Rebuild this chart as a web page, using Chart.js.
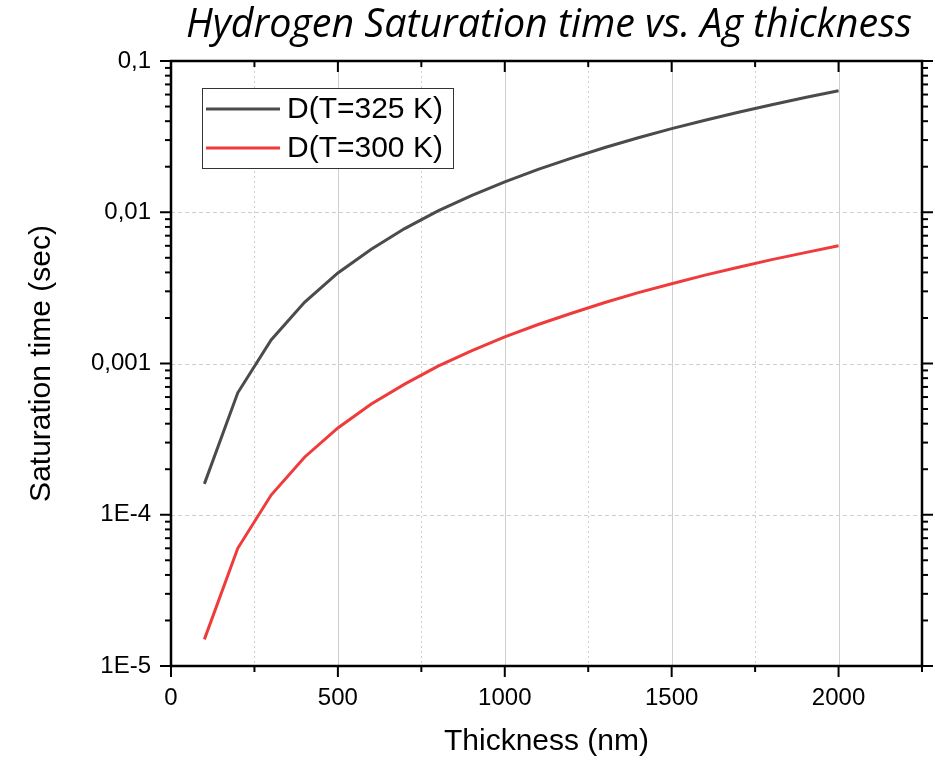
<!DOCTYPE html>
<html>
<head>
<meta charset="utf-8">
<script src="https://cdn.jsdelivr.net/npm/chart.js@4/dist/chart.umd.min.js"></script>
<style>
  html, body { margin: 0; padding: 0; background: #fff; }
  #wrap { width: 935px; height: 762px; }
</style>
</head>
<body>
<div id="wrap"><canvas id="chart" width="935" height="762"></canvas></div>
<script>
const thickness = [100, 200, 300, 400, 500, 600, 700, 800, 900, 1000, 1100, 1200, 1300, 1400, 1500, 1600, 1700, 1800, 1900, 2000];
const t325 = [1.6e-4, 6.4e-4, 1.43e-3, 2.54e-3, 3.97e-3, 5.7e-3, 7.8e-3, 1.02e-2, 1.29e-2, 1.59e-2, 1.92e-2, 2.28e-2, 2.68e-2, 3.11e-2, 3.57e-2, 4.06e-2, 4.58e-2, 5.14e-2, 5.73e-2, 6.35e-2];
const t300 = [1.5e-5, 6.0e-5, 1.35e-4, 2.4e-4, 3.75e-4, 5.4e-4, 7.3e-4, 9.6e-4, 1.21e-3, 1.5e-3, 1.81e-3, 2.15e-3, 2.53e-3, 2.94e-3, 3.37e-3, 3.84e-3, 4.33e-3, 4.86e-3, 5.41e-3, 6.0e-3];
const seriesNames = ['D(T=325 K)', 'D(T=300 K)'];
const xTicks = [0, 500, 1000, 1500, 2000];
const xMinorTicks = [250, 750, 1250, 1750, 2250];
const yTicks = [1e-5, 1e-4, 1e-3, 1e-2, 1e-1];
const yTickLabels = ['1E-5', '1E-4', '0,001', '0,01', '0,1'];
const titleText = 'Hydrogen Saturation time vs. Ag thickness';
const xTitle = 'Thickness (nm)';
const yTitle = 'Saturation time (sec)';

const SANS = '"Liberation Sans", Arial, sans-serif';

function pts(ys) {
  return thickness.map((x, i) => ({ x: x, y: ys[i] }));
}

// frame, ticks, grid, legend and titles
const decorations = {
  id: 'decorations',
  beforeDatasetsDraw(chart) {
    const { ctx, chartArea: a, scales: { x, y } } = chart;
    ctx.save();
    ctx.strokeStyle = '#cfcfcf';
    ctx.lineWidth = 1;
    xTicks.slice(1).forEach(v => {
      const px = Math.round(x.getPixelForValue(v)) + 0.5;
      ctx.setLineDash([]);
      ctx.beginPath(); ctx.moveTo(px, a.top); ctx.lineTo(px, a.bottom); ctx.stroke();
    });
    xMinorTicks.slice(0, -1).forEach(v => {
      const px = Math.round(x.getPixelForValue(v)) + 0.5;
      ctx.setLineDash([2, 3]);
      ctx.beginPath(); ctx.moveTo(px, a.top); ctx.lineTo(px, a.bottom); ctx.stroke();
    });
    yTicks.slice(1, -1).forEach(v => {
      const py = Math.round(y.getPixelForValue(v)) + 0.5;
      ctx.setLineDash([4, 3]);
      ctx.beginPath(); ctx.moveTo(a.left, py); ctx.lineTo(a.right, py); ctx.stroke();
    });
    ctx.restore();
  },
  afterDraw(chart) {
    const { ctx, chartArea: a, scales: { x, y } } = chart;
    ctx.save();
    ctx.strokeStyle = '#000';
    ctx.setLineDash([]);
    ctx.lineWidth = 2.5;
    ctx.strokeRect(a.left, a.top, a.right - a.left, a.bottom - a.top);

    ctx.lineWidth = 2;
    const tick = (x1, y1, x2, y2) => { ctx.beginPath(); ctx.moveTo(x1, y1); ctx.lineTo(x2, y2); ctx.stroke(); };
    // x ticks
    xTicks.forEach(v => {
      const px = x.getPixelForValue(v);
      tick(px, a.bottom, px, a.bottom + 11);
      tick(px, a.top, px, a.top + 11);
    });
    xMinorTicks.forEach(v => {
      const px = x.getPixelForValue(v);
      tick(px, a.bottom, px, a.bottom + 6);
      tick(px, a.top, px, a.top + 6);
    });
    // y ticks (log, with minors)
    for (let d = 0; d < yTicks.length; d++) {
      const base = yTicks[d];
      const py = y.getPixelForValue(base);
      tick(a.left - 11, py, a.left, py);
      tick(a.right, py, a.right + 11, py);
      if (d === yTicks.length - 1) break;
      for (let m = 2; m <= 9; m++) {
        const pm = y.getPixelForValue(base * m);
        tick(a.left - 6, pm, a.left, pm);
        tick(a.right, pm, a.right + 6, pm);
      }
    }

    // legend
    const lx = 202, ly = 88, lw = 251, lh = 80;
    ctx.fillStyle = '#fff';
    ctx.fillRect(lx, ly, lw, lh);
    ctx.lineWidth = 1;
    ctx.strokeStyle = '#333';
    ctx.strokeRect(lx + 0.5, ly + 0.5, lw, lh);
    ctx.font = '30px ' + SANS;
    ctx.textBaseline = 'middle';
    ctx.textAlign = 'left';
    chart.data.datasets.forEach((ds, i) => {
      const cy = ly + 21 + i * 39;
      ctx.strokeStyle = ds.borderColor;
      ctx.lineWidth = 3;
      tick(lx + 4, cy, lx + 78, cy);
      ctx.fillStyle = '#000';
      ctx.fillText(ds.label, lx + 85, cy + 1);
    });

    // titles
    ctx.fillStyle = '#000';
    ctx.textAlign = 'center';
    ctx.font = '30px ' + SANS;
    ctx.fillText(xTitle, (a.left + a.right) / 2, 742);
    ctx.save();
    ctx.translate(42, (a.top + a.bottom) / 2);
    ctx.rotate(-Math.PI / 2);
    ctx.fillText(yTitle, 0, 0);
    ctx.restore();

    let fs = 34;
    ctx.font = 'italic ' + fs + 'px "Open Sans", sans-serif';
    fs = fs * 726 / ctx.measureText(titleText).width;
    ctx.font = 'italic ' + fs.toFixed(1) + 'px "Open Sans", sans-serif';
    ctx.textBaseline = 'alphabetic';
    ctx.fillText(titleText, 549, 37);
    ctx.restore();
  }
};

new Chart(document.getElementById('chart'), {
  type: 'line',
  data: {
    datasets: [
      { label: seriesNames[0], data: pts(t325), borderColor: '#4b4b4b', borderWidth: 3, pointRadius: 0, tension: 0, fill: false },
      { label: seriesNames[1], data: pts(t300), borderColor: '#ef3b3b', borderWidth: 3, pointRadius: 0, tension: 0, fill: false }
    ]
  },
  options: {
    responsive: false,
    animation: false,
    layout: { padding: { top: 61, right: 13, left: 0, bottom: 0 } },
    plugins: { legend: { display: false }, title: { display: false }, tooltip: { enabled: false } },
    scales: {
      x: {
        type: 'linear',
        min: 0,
        max: 2250,
        afterBuildTicks: s => { s.ticks = xTicks.map(v => ({ value: v })); },
        afterFit: s => { s.height = 96; },
        grid: { display: false, drawTicks: false },
        border: { display: false },
        ticks: {
          padding: 18,
          color: '#000',
          font: { family: SANS, size: 24 },
          callback: v => String(v),
          maxRotation: 0
        }
      },
      y: {
        type: 'logarithmic',
        min: 1e-5,
        max: 0.1,
        afterBuildTicks: s => { s.ticks = yTicks.map(v => ({ value: v })); },
        afterFit: s => { s.width = 171; },
        grid: { display: false, drawTicks: false },
        border: { display: false },
        ticks: {
          padding: 20,
          color: '#000',
          font: { family: SANS, size: 24 },
          callback: v => yTickLabels[yTicks.findIndex(t => Math.abs(t - v) / t < 1e-6)] || ''
        }
      }
    }
  },
  plugins: [decorations]
});
</script>
</body>
</html>
